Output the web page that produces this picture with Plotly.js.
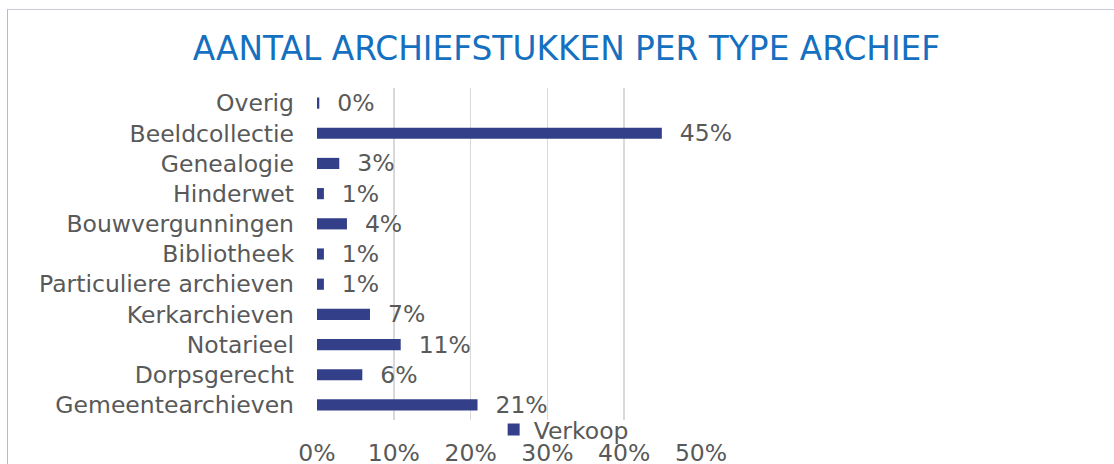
<!DOCTYPE html>
<html>
<head>
<meta charset="utf-8">
<script src="https://cdn.plot.ly/plotly-3.0.1.min.js"></script>
<style>
  html, body { margin: 0; padding: 0; background: #ffffff; }
  #wrap { position: relative; width: 1114px; height: 464px; overflow: hidden; }
  #chart { position: absolute; left: 0; top: 0; width: 1114px; height: 464px; }
  #frame { position: absolute; left: 7px; top: 9px; width: 1120px; height: 470px;
           border-left: 1px solid #b4b8e0; border-top: 1px solid #c8cbda; pointer-events: none; }
</style>
</head>
<body>
<div id="wrap">
  <div id="chart"></div>
  <div id="frame"></div>
</div>
<script>
// Data (bottom to top, as drawn)
const categories = [
  "Gemeentearchieven",
  "Dorpsgerecht",
  "Notarieel",
  "Kerkarchieven",
  "Particuliere archieven",
  "Bibliotheek",
  "Bouwvergunningen",
  "Hinderwet",
  "Genealogie",
  "Beeldcollectie",
  "Overig"
];
const verkoop = [0.209, 0.059, 0.109, 0.069, 0.009, 0.009, 0.039, 0.009, 0.029, 0.449, 0.003];
const seriesName = "Verkoop";
const xTickVals = [0, 0.1, 0.2, 0.3, 0.4, 0.5];
const xTickText = ["0%", "10%", "20%", "30%", "40%", "50%"];
const chartTitle = "AANTAL ARCHIEFSTUKKEN PER TYPE ARCHIEF";

const fontFam = "DejaVu Sans, Verdana, sans-serif";
const grey = "#595959";
const fs = 23.5;

const trace = {
  type: "bar",
  orientation: "h",
  name: seriesName,
  y: categories,
  x: verkoop,
  marker: { color: "#333f89" },
  width: 0.37,
  text: verkoop,
  texttemplate: "\u00a0\u00a0%{x:.0%}",
  textposition: "outside",
  constraintext: "none",
  cliponaxis: false,
  textfont: { family: fontFam, size: fs, color: grey },
  hoverinfo: "skip"
};

const layout = {
  width: 1114,
  height: 464,
  margin: { l: 317, r: 413, t: 88, b: 44, autoexpand: false },
  paper_bgcolor: "rgba(0,0,0,0)",
  plot_bgcolor: "rgba(0,0,0,0)",
  font: { family: fontFam, size: fs, color: grey },
  title: {
    text: chartTitle,
    font: { family: fontFam, size: 32.8, color: "#1570c0" },
    xref: "container", yref: "container",
    x: 566.5 / 1114, xanchor: "center",
    y: 1 - 49 / 464, yanchor: "middle"
  },
  xaxis: {
    range: [0, 0.5],
    tickvals: xTickVals,
    ticktext: xTickText,
    showgrid: true,
    gridcolor: "#d9d9d9",
    gridwidth: 1.5,
    zeroline: false,
    showline: false,
    ticks: "",
    ticklabelstandoff: 16,
    tickfont: { family: fontFam, size: fs, color: grey },
    fixedrange: true
  },
  yaxis: {
    type: "category",
    categoryorder: "array",
    categoryarray: categories,
    range: [-0.5, categories.length - 0.5],
    showgrid: false,
    zeroline: false,
    showline: false,
    ticks: "",
    ticklabelstandoff: 22,
    tickfont: { family: fontFam, size: fs, color: grey },
    fixedrange: true
  },
  showlegend: true,
  legend: {
    orientation: "h",
    x: 0.46,
    xanchor: "left",
    y: 0.037,
    yanchor: "top",
    bgcolor: "rgba(0,0,0,0)",
    font: { family: fontFam, size: fs, color: grey }
  }
};

Plotly.newPlot("chart", [trace], layout, { displayModeBar: false, staticPlot: true });
</script>
</body>
</html>
